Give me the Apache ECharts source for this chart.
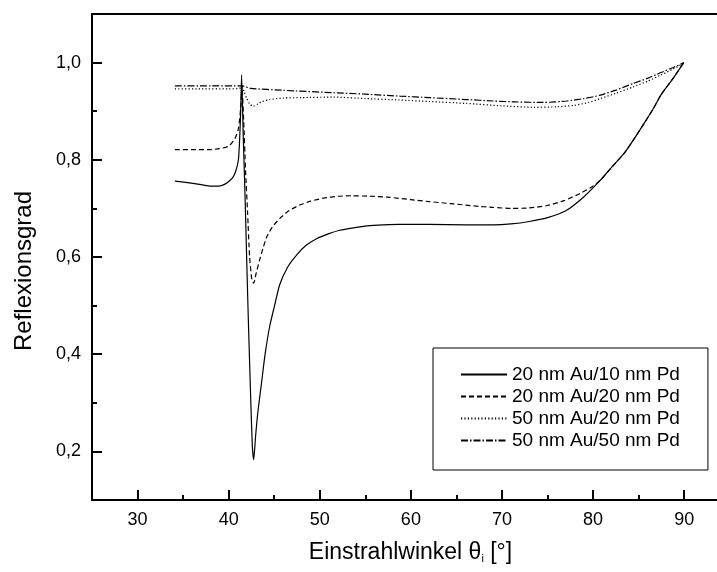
<!DOCTYPE html>
<html><head><meta charset="utf-8">
<script src="https://cdn.jsdelivr.net/npm/echarts@6/dist/echarts.min.js"></script>
<style>html,body{margin:0;padding:0;background:#fff}#c{width:717px;height:572px}</style>
</head><body><div id="c"></div>
<script>
const seriesNames = ['20 nm Au/10 nm Pd','20 nm Au/20 nm Pd','50 nm Au/20 nm Pd','50 nm Au/50 nm Pd'];
const xTickLabels = [30,40,50,60,70,80,90];
const xMinorTicks = [35,45,55,65,75,85];
const yTickLabels = [0.2,0.4,0.6,0.8,1.0];
const yMinorTicks = [0.3,0.5,0.7,0.9];

const s1 = [[34.1,0.756],[35.5,0.753],[37,0.749],[38,0.746],[38.9,0.746],[39.6,0.75],[40.1,0.757],[40.5,0.765],[40.8,0.778],[41.07,0.80],[41.2,0.84],[41.32,0.9],[41.42,0.975],[41.6,0.85],[41.8,0.724],[42.0,0.58],[42.17,0.464],[42.4,0.32],[42.6,0.21],[42.75,0.183],[42.95,0.23],[43.2,0.28],[43.6,0.34],[44.0,0.40],[44.5,0.457],[45.0,0.497],[45.6,0.543],[46.5,0.58],[47.5,0.605],[48.5,0.624],[49.7,0.638],[51,0.648],[52.2,0.655],[53.7,0.66],[55.2,0.664],[57,0.666],[58.8,0.667],[62,0.667],[66,0.666],[69,0.666],[71,0.668],[73,0.673],[75,0.681],[77,0.695],[79,0.724],[80.8,0.758],[82,0.784],[83.4,0.813],[84.5,0.843],[85.6,0.875],[86.6,0.905],[87.5,0.935],[88.8,0.968],[89.95,1.0]];
const s2 = [[34.1,0.821],[36,0.821],[38,0.821],[39,0.823],[40,0.828],[40.7,0.844],[41.07,0.864],[41.33,0.909],[41.46,0.95],[41.65,0.88],[41.85,0.78],[42.08,0.69],[42.3,0.6],[42.55,0.553],[42.75,0.546],[43.0,0.565],[43.4,0.594],[43.8,0.62],[44.2,0.642],[44.8,0.662],[45.6,0.679],[46.6,0.695],[47.8,0.707],[49,0.715],[50.4,0.721],[52,0.725],[53.5,0.726],[55.5,0.725],[57.5,0.723],[60,0.718],[62,0.714],[64.3,0.71],[67,0.705],[69,0.702],[71,0.70],[73,0.701],[75,0.706],[76.8,0.716],[78.6,0.731],[80,0.746],[80.8,0.758],[82,0.784],[83.4,0.813],[84.5,0.843],[85.6,0.875],[86.6,0.905],[87.5,0.935],[88.8,0.968],[89.95,1.0]];
const s3 = [[34.1,0.946],[37,0.946],[40,0.946],[41.2,0.947],[41.45,0.951],[41.7,0.94],[41.96,0.927],[42.3,0.915],[42.7,0.91],[43.2,0.915],[43.7,0.92],[44.5,0.924],[46,0.927],[48,0.928],[51.5,0.929],[55,0.926],[58.8,0.923],[62,0.92],[66.1,0.916],[70,0.911],[73.5,0.908],[76,0.909],[77.9,0.912],[79.5,0.918],[80.8,0.926],[82.5,0.937],[84.4,0.95],[86,0.962],[87.4,0.974],[88.8,0.987],[89.95,0.999]];
const s4 = [[34.1,0.952],[38,0.952],[41.5,0.952],[42.4,0.947],[46,0.943],[51.5,0.938],[55,0.935],[58.8,0.931],[62,0.928],[66.1,0.924],[69,0.921],[71.6,0.919],[74.5,0.918],[77.1,0.921],[79,0.926],[80.8,0.933],[82.6,0.944],[84.4,0.957],[86,0.968],[87.4,0.979],[88.8,0.99],[89.95,1.0]];

const lineStyles = [
  {type:'solid', width:1.2},
  {type:[5,3], width:1.2},
  {type:[1.2,2.2], width:1.2},
  {type:[7,2,1.5,2], width:1.2}
];
const dataSets = [s1,s2,s3,s4];
const FONT = 'Liberation Sans, Arial, sans-serif';

const chart = echarts.init(document.getElementById('c'));
const fmtY = v => v.toFixed(1).replace('.', ',');
chart.setOption({
  animation:false,
  backgroundColor:'#fff',
  grid:{left:92, right:0, top:14, bottom:72, containLabel:false},
  legend:{
    orient:'vertical', left:433, top:348,
    data:seriesNames,
    itemWidth:46, itemHeight:12, itemGap:3,
    borderColor:'#000', borderWidth:1,
    padding:[17,28,20,27],
    itemStyle:{opacity:0},
    textStyle:{fontFamily:FONT, fontSize:19, color:'#000'},
    inactiveColor:'#000'
  },
  xAxis:[
    {type:'value', min:25, max:93.6, position:'bottom',
     axisLine:{onZero:false, lineStyle:{color:'#000', width:2}},
     axisTick:{inside:true, length:10, lineStyle:{color:'#000', width:2}, customValues:xTickLabels},
     axisLabel:{customValues:xTickLabels, color:'#000', fontSize:18, fontFamily:FONT, margin:11},
     splitLine:{show:false},
     name:'Einstrahlwinkel θ{s|i} [°]', nameLocation:'middle', nameGap:41,
     nameTextStyle:{fontFamily:FONT, fontSize:23, color:'#000', padding:[0,0,0,12],
       rich:{s:{fontFamily:FONT, fontSize:11, color:'#000', padding:[12,0,0,0]}}}
    },
    {type:'value', min:25, max:93.6, position:'bottom',
     axisLine:{show:false},
     axisTick:{inside:true, length:5, lineStyle:{color:'#000', width:2}, customValues:xMinorTicks},
     axisLabel:{show:false}, splitLine:{show:false}},
    {type:'value', min:25, max:93.6, position:'top',
     axisLine:{onZero:false, lineStyle:{color:'#000', width:2}},
     axisTick:{show:false}, axisLabel:{show:false}, splitLine:{show:false}}
  ],
  yAxis:[
    {type:'value', min:0.1, max:1.1, position:'left',
     axisLine:{show:true, onZero:false, lineStyle:{color:'#000', width:2}},
     axisTick:{show:true, inside:true, length:10, lineStyle:{color:'#000', width:2}, customValues:yTickLabels},
     axisLabel:{customValues:yTickLabels, formatter:fmtY, color:'#000', fontSize:18, fontFamily:FONT, margin:11},
     splitLine:{show:false},
     name:'Reflexionsgrad', nameLocation:'middle', nameGap:56, nameRotate:90,
     nameTextStyle:{fontFamily:FONT, fontSize:24, color:'#000', padding:[0,28,0,0]}
    },
    {type:'value', min:0.1, max:1.1, position:'left',
     axisLine:{show:false},
     axisTick:{show:true, inside:true, length:5, lineStyle:{color:'#000', width:2}, customValues:yMinorTicks},
     axisLabel:{show:false}, splitLine:{show:false}}
  ],
  series: dataSets.map((d,i)=>({
    name:seriesNames[i], type:'line', data:d, xAxisIndex:0, yAxisIndex:0,
    symbol:'none', smooth:0.2,
    lineStyle:Object.assign({color:'#000'}, lineStyles[i]),
    itemStyle:{color:'#000'}
  }))
});
</script></body></html>
